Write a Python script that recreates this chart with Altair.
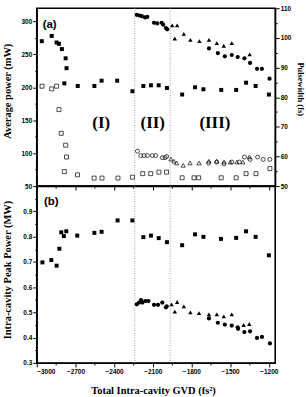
import altair as alt
import pandas as pd

# ---------------- data ----------------
# Panel (a), left axis: average power (mW)
a_sq_gvd = [-2961, -2884, -2846, -2828, -2805, -2776, -2769, -2786, -2682, -2553, -2497, -2376, -2258,
            -2173, -2114, -2054, -1990, -1872, -1772, -1707, -1569, -1453, -1376, -1302, -1199]
a_sq_pow = [270, 278, 268, 266, 258, 244, 229, 206, 202, 202, 210, 210, 194,
            202, 203, 203, 199, 189, 200, 197, 196, 196, 207, 202, 189]

a_ci_gvd = [-2224, -2204, -2185, -2160, -2142, -2090, -2065, -2031, -2019, -1998, -1988,
            -1664, -1595, -1541, -1487, -1441, -1389, -1345, -1291, -1253, -1194]
a_ci_pow = [310, 309, 308, 306, 307, 298, 297, 298, 295, 290, 288,
            259, 252, 247, 249, 246, 244, 237, 228, 228, 213]

a_tr_gvd = [-1949, -1911, -1929, -1859, -1808, -1738, -1664, -1603, -1549, -1487, -1348]
a_tr_pow = [294, 294, 274, 281, 272, 270, 272, 267, 263, 267, 250]

# Panel (a), right axis: pulsewidth (fs)
a_osq_gvd = [-2959, -2884, -2846, -2828, -2810, -2776, -2769, -2786, -2684, -2555, -2494, -2370, -2258,
             -2178, -2116, -2052, -1993, -1872, -1780, -1744, -1569, -1453, -1376, -1299, -1191]
a_osq_pw = [83.7, 82.8, 83.7, 75.8, 67.8, 63.8, 59.8, 54.9, 53.8, 52.7, 52.7, 52.7, 53.0,
            54.2, 54.2, 54.7, 54.7, 52.8, 52.8, 52.8, 52.8, 52.8, 54.2, 54.2, 55.9]

a_oci_gvd = [-2219, -2193, -2168, -2142, -2104, -2077, -2026, -2005, -1992,
             -1667, -1603, -1547, -1487, -1428, -1389, -1345, -1287, -1243, -1191]
a_oci_pw = [61.8, 60.3, 60.3, 60.3, 60.3, 60.3, 59.6, 59.6, 60.0,
            57.8, 58.1, 57.5, 58.1, 58.1, 59.8, 59.0, 59.8, 59.0, 59.0]

a_otr_gvd = [-1959, -1936, -1915, -1864, -1811, -1741, -1664, -1605, -1547, -1498, -1447, -1401, -1351]
a_otr_pw = [59.1, 58.4, 57.8, 57.0, 57.8, 57.8, 58.4, 58.4, 58.1, 58.1, 58.1, 58.1, 59.8]

# Panel (b): intra-cavity peak power (MW)
b_sq_gvd = [-2956, -2887, -2846, -2825, -2810, -2790, -2771, -2686, -2553, -2497, -2373, -2258,
            -2173, -2114, -2054, -1990, -1872, -1772, -1707, -1571, -1453, -1376, -1302, -1199]
b_sq_pp = [0.698, 0.707, 0.685, 0.752, 0.817, 0.802, 0.821, 0.804, 0.815, 0.819, 0.864, 0.864,
           0.798, 0.804, 0.794, 0.778, 0.766, 0.809, 0.799, 0.791, 0.795, 0.821, 0.799, 0.726]

b_ci_gvd = [-2224, -2206, -2191, -2181, -2158, -2134, -2090, -2059, -2026, -1998, -1992,
            -1664, -1595, -1541, -1487, -1441, -1438, -1389, -1345, -1291, -1253, -1191]
b_ci_pp = [0.532, 0.539, 0.549, 0.539, 0.545, 0.545, 0.530, 0.530, 0.539, 0.520, 0.524,
           0.476, 0.459, 0.452, 0.448, 0.441, 0.435, 0.422, 0.425, 0.399, 0.403, 0.377]

b_tr_gvd = [-1954, -1911, -1929, -1859, -1808, -1741, -1664, -1603, -1549, -1487, -1395, -1351]
b_tr_pp = [0.532, 0.541, 0.503, 0.524, 0.500, 0.497, 0.492, 0.492, 0.484, 0.492, 0.450, 0.454]

# region boundaries and labels
region_bounds = [-2240, -1965]
region_names = ["(I)", "(II)", "(III)"]
region_gvd = [-2500, -2100, -1618]
region_val = [146, 146, 146]

# tick values
x_ticks = [-3000, -2850, -2700, -2550, -2400, -2250, -2100, -1950, -1800, -1650, -1500, -1350, -1200]
pow_ticks = [50, 75, 100, 125, 150, 175, 200, 225, 250, 275, 300]
pw_ticks = [50, 55, 60, 65, 70, 75, 80, 85, 90, 95, 100, 105, 110]
pp_ticks = [0.3, 0.35, 0.4, 0.45, 0.5, 0.55, 0.6, 0.65, 0.7, 0.75, 0.8, 0.85, 0.9, 0.95]

# ---------------- encodings ----------------
xscale = alt.Scale(domain=[-3000, -1150], nice=False, zero=False)


def tick_size(test):
    return {"condition": {"test": test, "value": 4}, "value": 2}


x_axis_top = alt.Axis(values=x_ticks, labels=False, title=None,
                      tickSize=tick_size("datum.value % 300 === 0"))
x_axis_bot = alt.Axis(values=x_ticks, format="d",
                      labelExpr="datum.value % 300 === 0 ? datum.label : ''",
                      tickSize=tick_size("datum.value % 300 === 0"),
                      title="Total Intra-cavity GVD (fs²)", titleFontSize=10.5,
                      titleX=117, titleY=28, titleBaseline="middle", labelPadding=2)

x_top = alt.X("gvd:Q", scale=xscale, axis=x_axis_top)
x_bot = alt.X("gvd:Q", scale=xscale, axis=x_axis_bot)

y_left = alt.Y("val:Q", scale=alt.Scale(domain=[50, 320], nice=False, zero=False),
               axis=alt.Axis(values=pow_ticks, format="d",
                             labelExpr="datum.value % 50 === 0 ? datum.label : ''",
                             tickSize=tick_size("datum.value % 50 === 0"),
                             title="Average power (mW)", titleFontSize=10.5,
                             titleX=-29, titleY=83, titleBaseline="middle"))
y_right = alt.Y("val:Q", scale=alt.Scale(domain=[50, 110], nice=False, zero=False),
                axis=alt.Axis(orient="right", values=pw_ticks, format="d",
                              labelExpr="datum.value % 10 === 0 ? datum.label : ''",
                              tickSize=tick_size("datum.value % 10 === 0"),
                              title="Pulsewidth (fs)", titleFontSize=8.5, titleAngle=90,
                              titleX=25.7, titleY=81, titleBaseline="middle"))
y_bot = alt.Y("val:Q", scale=alt.Scale(domain=[0.3, 1.0], nice=False, zero=False),
              axis=alt.Axis(values=pp_ticks, format=".1f",
                            labelExpr="round(datum.value * 100) % 10 === 0 ? datum.label : ''",
                            tickSize=tick_size("round(datum.value * 100) % 10 === 0"),
                            title="Intra-cavity Peak Power (MW)", titleFontSize=10.5,
                            titleX=-29, titleY=84, titleBaseline="middle"))


def pts(gvd, val, shape, filled, size, x, y):
    df = pd.DataFrame({"gvd": gvd, "val": val})
    if filled:
        m = alt.Chart(df).mark_point(shape=shape, filled=True, size=size, color="black", opacity=1)
    else:
        m = alt.Chart(df).mark_point(shape=shape, filled=False, size=size, color="black",
                                     strokeWidth=0.7, opacity=1)
    return m.encode(x=x, y=y)


def rules(x):
    return alt.Chart(pd.DataFrame({"gvd": region_bounds})).mark_rule(
        color="#8a8a8a", strokeDash=[1, 1.5], strokeWidth=0.8).encode(x=x)


def label(text, gvd, val, x, y, font, size):
    df = pd.DataFrame({"gvd": gvd, "val": val, "t": text})
    return alt.Chart(df).mark_text(font=font, fontSize=size, fontWeight="bold", color="black",
                                   align="center", baseline="middle").encode(x=x, y=y, text="t:N")


# ---------------- panel (a) ----------------
left_layer = alt.layer(
    rules(x_top),
    pts(a_sq_gvd, a_sq_pow, "square", True, 16, x_top, y_left),
    pts(a_ci_gvd, a_ci_pow, "circle", True, 18, x_top, y_left),
    pts(a_tr_gvd, a_tr_pow, "triangle-up", True, 20, x_top, y_left),
    label(region_names, region_gvd, region_val, x_top, y_left, "Liberation Serif", 17),
    label(["(a)"], [-2900], [295], x_top, y_left, "Liberation Sans", 11.5),
)
right_layer = alt.layer(
    pts(a_osq_gvd, a_osq_pw, "square", False, 16, x_top, y_right),
    pts(a_oci_gvd, a_oci_pw, "circle", False, 16, x_top, y_right),
    pts(a_otr_gvd, a_otr_pw, "triangle-up", False, 18, x_top, y_right),
)
top = alt.layer(left_layer, right_layer).resolve_scale(y="independent").properties(
    width=240, height=179)

# ---------------- panel (b) ----------------
bottom = alt.layer(
    rules(x_bot),
    pts(b_sq_gvd, b_sq_pp, "square", True, 16, x_bot, y_bot),
    pts(b_ci_gvd, b_ci_pp, "circle", True, 18, x_bot, y_bot),
    pts(b_tr_gvd, b_tr_pp, "triangle-up", True, 20, x_bot, y_bot),
    label(["(b)"], [-2888], [0.936], x_bot, y_bot, "Liberation Sans", 11.5),
).properties(width=240, height=178)

chart = alt.vconcat(top, bottom, spacing=0, bounds="flush").properties(
    padding={"left": 2, "top": 3, "right": 0, "bottom": 0},
    background="white",
).configure_view(stroke="black", strokeWidth=1.6).configure_axis(
    grid=False, domainColor="black", domainWidth=1.2, tickColor="black", tickWidth=1,
    labelFont="Liberation Sans", labelFontWeight="bold", labelFontSize=6.5, labelColor="black",
    labelPadding=1, titleColor="black", titleFont="Liberation Serif", titleFontWeight="bold",
)

chart.save("out.html", embed_options={"renderer": "svg", "actions": False})
